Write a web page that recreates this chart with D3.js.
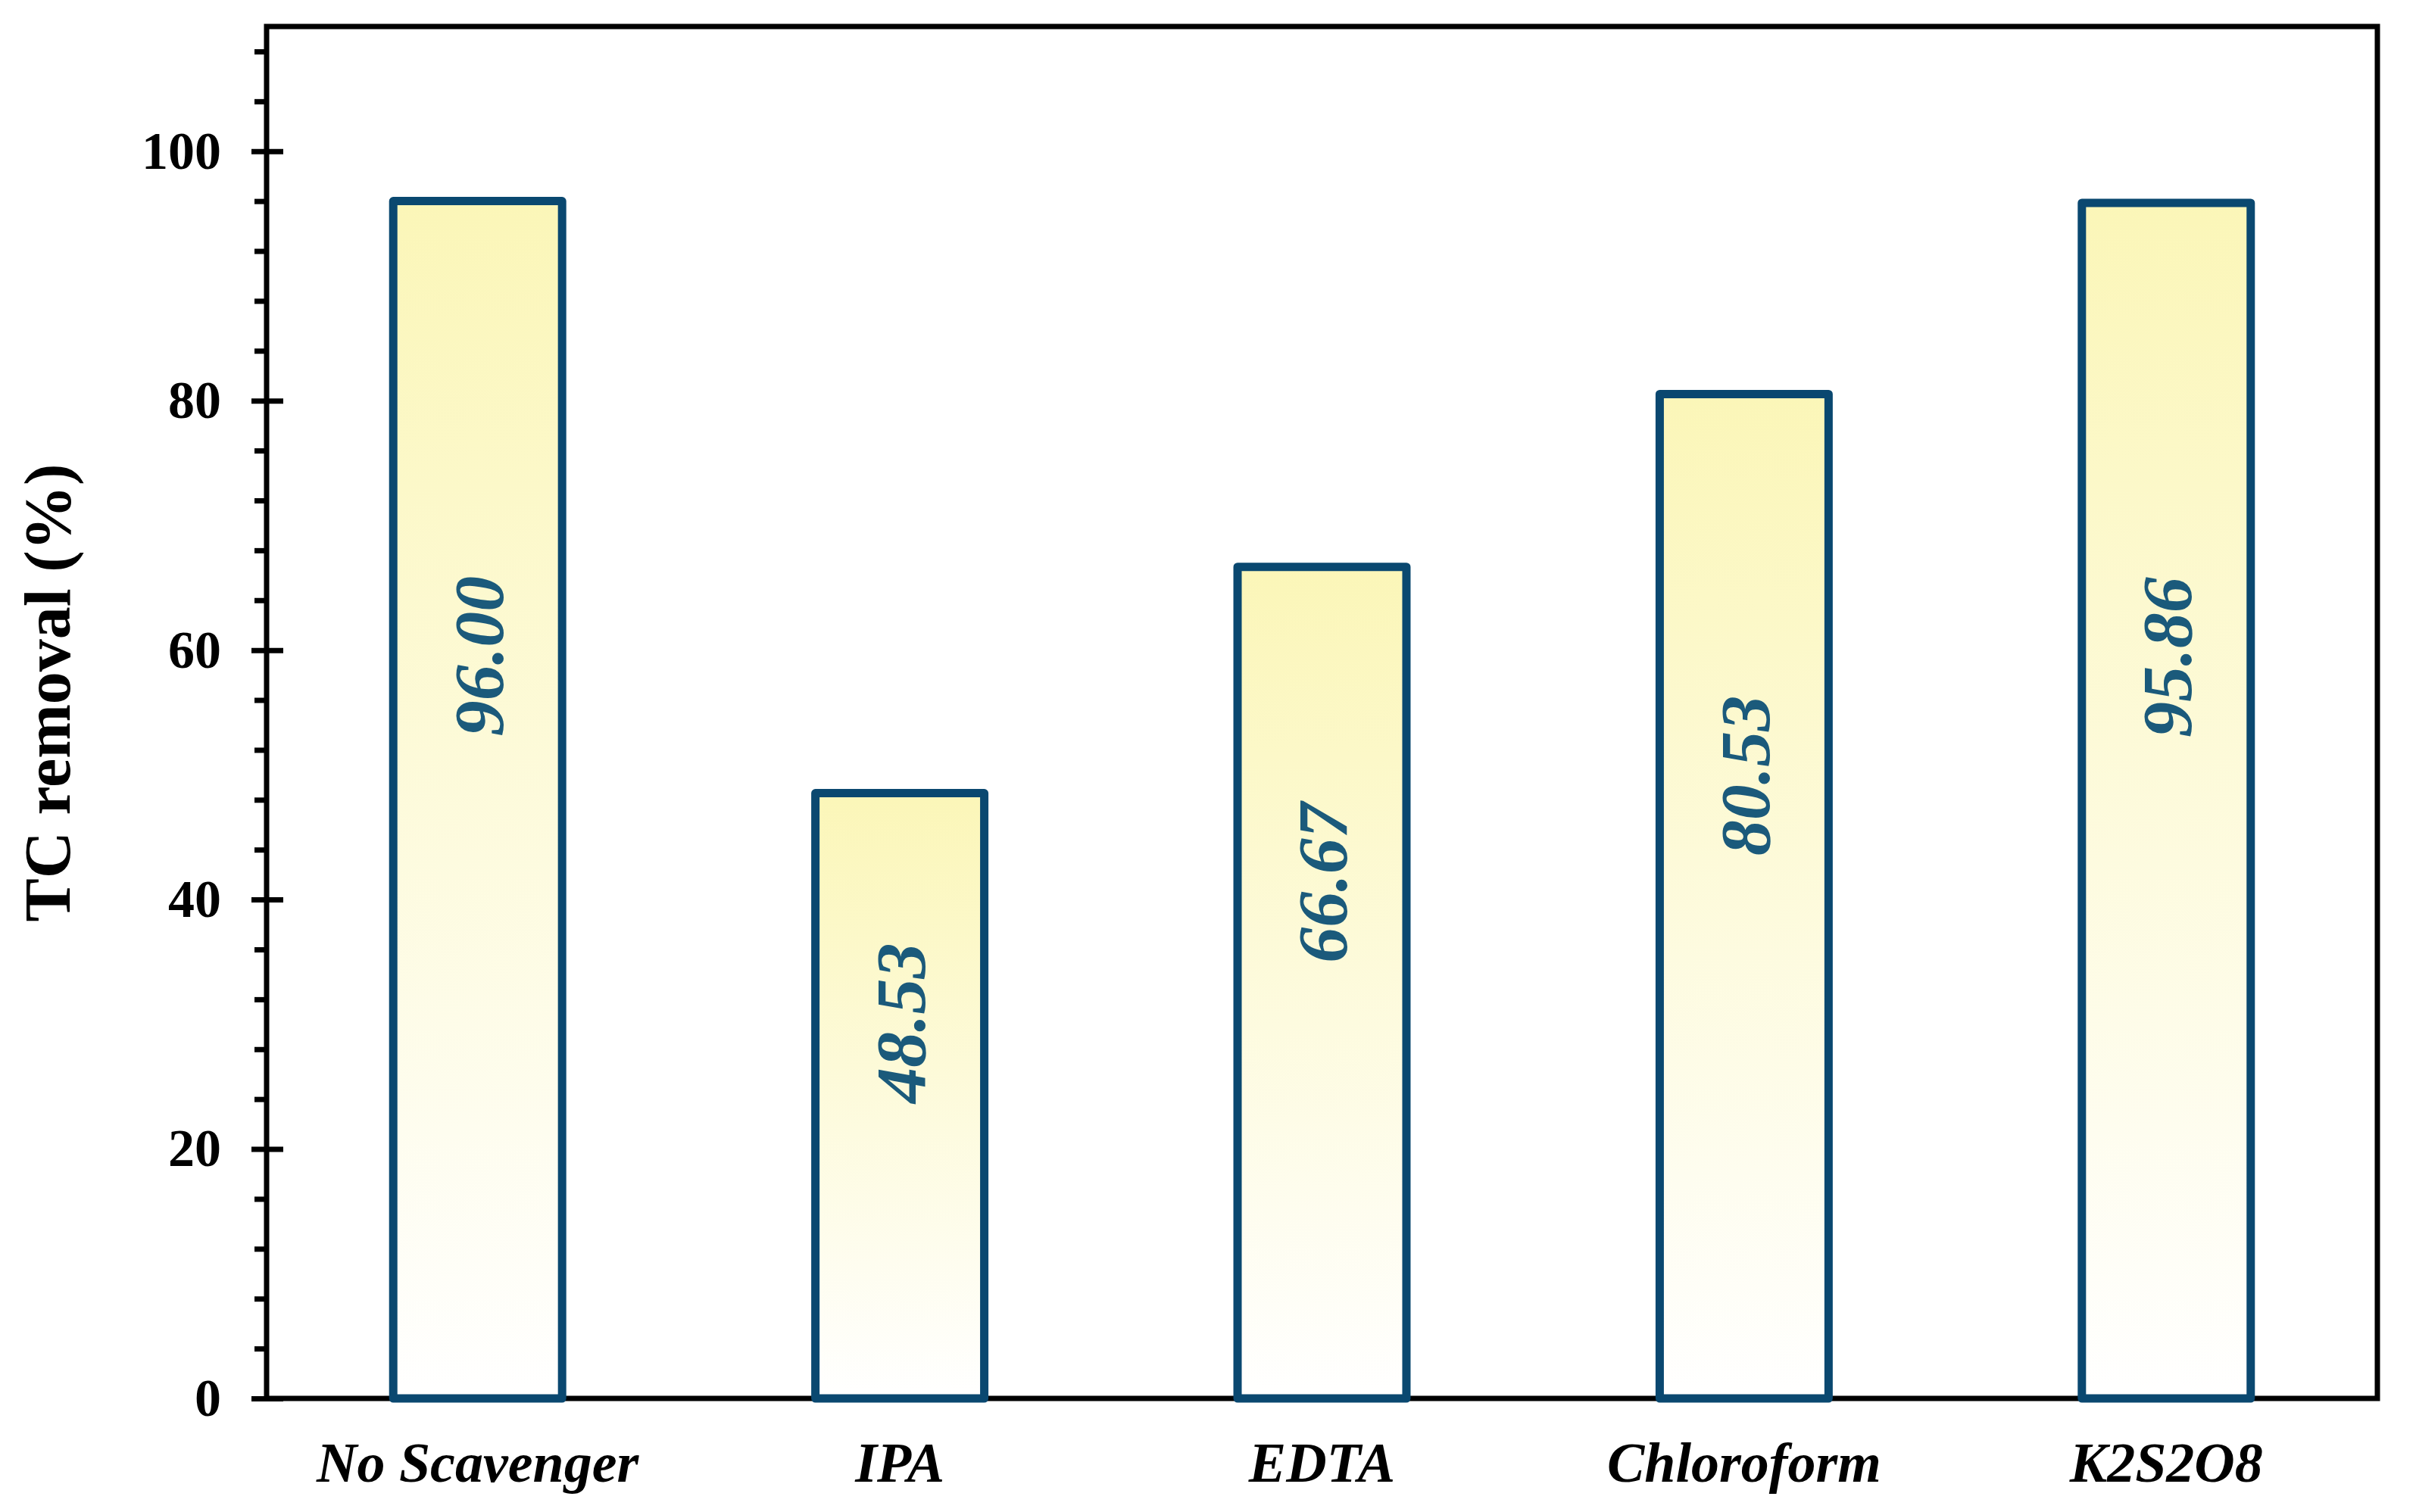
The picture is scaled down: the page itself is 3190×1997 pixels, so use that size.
<!DOCTYPE html>
<html>
<head>
<meta charset="utf-8">
<script src="https://cdn.jsdelivr.net/npm/d3@7"></script>
<style>
  body { margin: 0; background: #fff; }
  text { font-family: "Times New Roman", "Liberation Serif", serif; }
</style>
</head>
<body>
<div id="chart"></div>
<script>
// data
var scavengers = ["No Scavenger", "IPA", "EDTA", "Chloroform", "K2S2O8"];
var tc_removal = [96.00, 48.53, 66.67, 80.53, 95.86];
var value_labels = ["96.00", "48.53", "66.67", "80.53", "95.86"];
var major_ticks = [0, 20, 40, 60, 80, 100];

var svg_width = 3190;
var svg_height = 1997;
var margin = { top: 35, right: 51, bottom: 150, left: 352 };
var width = svg_width - margin.left - margin.right;
var height = svg_height - margin.top - margin.bottom;

var svg = d3.select("#chart")
    .append("svg")
    .attr("width", svg_width)
    .attr("height", svg_height)

// yellow -> white fill on the bars
var grad = svg.append("defs").append("linearGradient")
    .attr("id", "barFill")
    .attr("x1", 0).attr("y1", 0).attr("x2", 0).attr("y2", 1)
grad.append("stop").attr("offset", "0%").attr("stop-color", "#fbf6b8")
grad.append("stop").attr("offset", "100%").attr("stop-color", "#ffffff")

var chart = svg.append("g")
    .attr("transform", `translate(${margin.left}, ${margin.top})`)

var x_scale = d3.scaleBand()
    .domain(scavengers)
    .range([0, width])
    .paddingInner(0.6)
    .paddingOuter(0.3)

var y_scale = d3.scaleLinear()
    .domain([0, 110])
    .range([height, 0])

// minor ticks every 4
var minor_ticks = d3.range(0, 111, 4).filter(d => d % 20 != 0)

var minor_axis = chart.append("g")
    .call(d3.axisLeft(y_scale).tickValues(minor_ticks).tickSize(16).tickFormat(""))
minor_axis.select(".domain").remove()
minor_axis.selectAll("line").attr("stroke", "#000").attr("stroke-width", 7)

var left_axis = chart.append("g")
    .call(d3.axisLeft(y_scale).tickValues(major_ticks).tickSize(20).tickPadding(40))
left_axis.select(".domain").remove()
left_axis.selectAll("line")
    .attr("x1", 22)
    .attr("stroke", "#000")
    .attr("stroke-width", 7)
left_axis.selectAll("text")
    .style("font-size", "70px")
    .style("font-weight", "bold")
    .attr("fill", "#000")

var bottom_axis = chart.append("g")
    .attr("transform", `translate(0, ${height})`)
    .call(d3.axisBottom(x_scale).tickSize(0).tickPadding(57))
bottom_axis.select(".domain").remove()
bottom_axis.selectAll("text")
    .style("font-size", "74px")
    .style("font-weight", "bold")
    .style("font-style", "italic")
    .attr("fill", "#000")

// plot frame
chart.append("rect")
    .attr("x", 0)
    .attr("y", 0)
    .attr("width", width)
    .attr("height", height)
    .attr("fill", "none")
    .attr("stroke", "#000")
    .attr("stroke-width", 7)

chart.selectAll(".bar")
    .data(tc_removal)
    .enter()
    .append("rect")
    .attr("class", "bar")
    .attr("x", (d, i) => x_scale(scavengers[i]))
    .attr("y", d => y_scale(d))
    .attr("width", x_scale.bandwidth())
    .attr("height", d => height - y_scale(d))
    .attr("fill", "url(#barFill)")
    .attr("stroke", "#0a4870")
    .attr("stroke-width", 11)
    .attr("stroke-linejoin", "round")

chart.selectAll(".valueText")
    .data(tc_removal)
    .enter()
    .append("text")
    .attr("class", "valueText")
    .attr("transform", (d, i) => `translate(${x_scale(scavengers[i]) + x_scale.bandwidth() / 2}, ${y_scale(d * 0.62)}) rotate(-90)`)
    .attr("dy", "0.35em")
    .text((d, i) => value_labels[i])
    .style("font-size", "94px")
    .style("font-weight", "bold")
    .style("font-style", "italic")
    .style("text-anchor", "middle")
    .attr("fill", "#1b5a7b")

svg.append("text")
    .attr("transform", `translate(92, ${margin.top + height / 2 - 26}) rotate(-90)`)
    .text("TC removal (%)")
    .style("font-size", "86px")
    .style("font-weight", "bold")
    .style("text-anchor", "middle")
    .attr("fill", "#000")
</script>
</body>
</html>
